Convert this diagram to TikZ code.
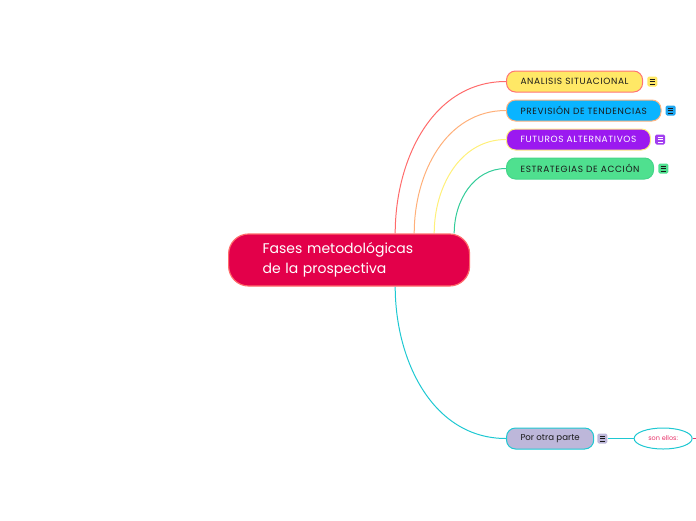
\documentclass[tikz,border=0pt]{standalone}
\usepackage{fontspec}
\setmainfont{Poppins}
\newfontfamily\topicfont[LetterSpace=7]{Poppins}
\usetikzlibrary{positioning,shapes.geometric,backgrounds}
\definecolor{cMainF}{HTML}{E3004A}
\definecolor{cMainD}{HTML}{FF6B6B}
\definecolor{cYelF}{HTML}{FFE866}
\definecolor{cYelD}{HTML}{FF7373}
\definecolor{cBlueF}{HTML}{0AB4FF}
\definecolor{cBlueN}{HTML}{1EA6F0}
\definecolor{cBlueD}{HTML}{FFB380}
\definecolor{cPurpF}{HTML}{9B19F0}
\definecolor{cPurpN}{HTML}{A23EF0}
\definecolor{cPurpD}{HTML}{FFEE80}
\definecolor{cGreenF}{HTML}{4FE08F}
\definecolor{cGreenD}{HTML}{45D68A}
\definecolor{cLavF}{HTML}{BDB7DA}
\definecolor{cCyanD}{HTML}{1EC8D2}
\definecolor{cRedL}{HTML}{FF6B6B}
\definecolor{cOrangeL}{HTML}{FFB07A}
\definecolor{cYelL}{HTML}{FFF07A}
\definecolor{cGreenL}{HTML}{33CC99}
\definecolor{cPinkT}{HTML}{E8336A}
\definecolor{cInk}{HTML}{1A1A1A}
\tikzset{
  topic/.style   = {rounded corners=9pt, draw, line width=1pt, inner xsep=14pt,
                    inner ysep=0pt, minimum height=21pt, anchor=west,
                    font=\topicfont\fontsize{9}{10}\selectfont},
  main/.style    = {rounded corners=20pt, draw=cMainD, fill=cMainF, text=white,
                    line width=1.2pt, anchor=west, minimum width=241pt,
                    minimum height=52pt, inner xsep=34pt, text width=173pt,
                    align=left, font=\fontsize{14}{20}\selectfont},
  yellow/.style  = {topic, fill=cYelF,   draw=cYelD,   text=cInk},
  blue/.style    = {topic, fill=cBlueF,  draw=cBlueD,  text=cInk},
  purple/.style  = {topic, fill=cPurpF,  draw=cPurpD,  text=white},
  green/.style   = {topic, fill=cGreenF, draw=cGreenD, text=cInk},
  lavender/.style= {topic, fill=cLavF,   draw=cCyanD,  text=cInk,
                    font=\fontsize{8.6}{9}\selectfont},
  notes/.style   = {rounded corners=1.5pt, minimum size=10pt, inner sep=0pt,
                    path picture={
                      \foreach \dy in {-2.3,0,2.3}
                        \draw[#1, line width=0.6pt]
                          ([shift={(-2.6,\dy)}]path picture bounding box.center) -- ++(5.2,0);
                    }},
  notes/.default = cInk,
  oval/.style    = {ellipse, draw=cCyanD, fill=white, line width=1pt,
                    minimum width=58pt, minimum height=21pt, inner sep=0pt,
                    text=cPinkT, font=\fontsize{6.5}{7}\selectfont},
  link/.style    = {line width=1pt},
}
\begin{document}
\begin{tikzpicture}
  \useasboundingbox (0,0) rectangle (696pt,-520pt);
  \begin{scope}[x=1pt,y=1pt]
  \node[main] (fases) at (228,-260) {Fases metodológicas\\de la prospectiva};
  \node[yellow] (analisis) at (506,-81.5) {ANALISIS SITUACIONAL};
  \node[blue] (prevision) at (506,-110.5) {PREVISIÓN DE TENDENCIAS};
  \node[purple] (futuros) at (506,-139.5) {FUTUROS ALTERNATIVOS};
  \node[green] (estrategias) at (506,-168.5) {ESTRATEGIAS DE ACCIÓN};
  \node[lavender] (otra) at (506,-438.5) {Por otra parte};
  % note icons
  \node[notes, fill=cYelF, right=4pt of analisis] (nAnalisis) {};
  \node[notes, fill=cBlueN, right=4pt of prevision] (nPrevision) {};
  \node[notes=white, fill=cPurpN, right=4pt of futuros] (nFuturos) {};
  \node[notes, fill=cGreenF, right=4pt of estrategias] (nEstrategias) {};
  \node[notes, fill=cLavF, right=3pt of otra] (nOtra) {};
  \node[oval, right=26pt of nOtra] (ellos) {son ellos:};
  \coordinate (edge) at (700,-438.5);
  % branches
  \begin{scope}[on background layer]
    \draw[link, cRedL] ([xshift=-75pt]fases.north east) to[out=90,in=180] (analisis.west);
    \draw[link, cOrangeL] ([xshift=-56pt]fases.north east) to[out=90,in=180] (prevision.west);
    \draw[link, cYelL] ([xshift=-36pt]fases.north east) to[out=90,in=180] (futuros.west);
    \draw[link, cGreenL] ([xshift=-16pt]fases.north east) to[out=90,in=180] (estrategias.west);
    \draw[link, cCyanD] ([xshift=-75pt]fases.south east) to[out=-90,in=180] (otra.west);
    \draw[link, cCyanD] (nOtra.east) -- (ellos.west);
    \draw[link, cPinkT] (ellos.east) -- (edge);
  \end{scope}
  \end{scope}
\end{tikzpicture}
\end{document}
